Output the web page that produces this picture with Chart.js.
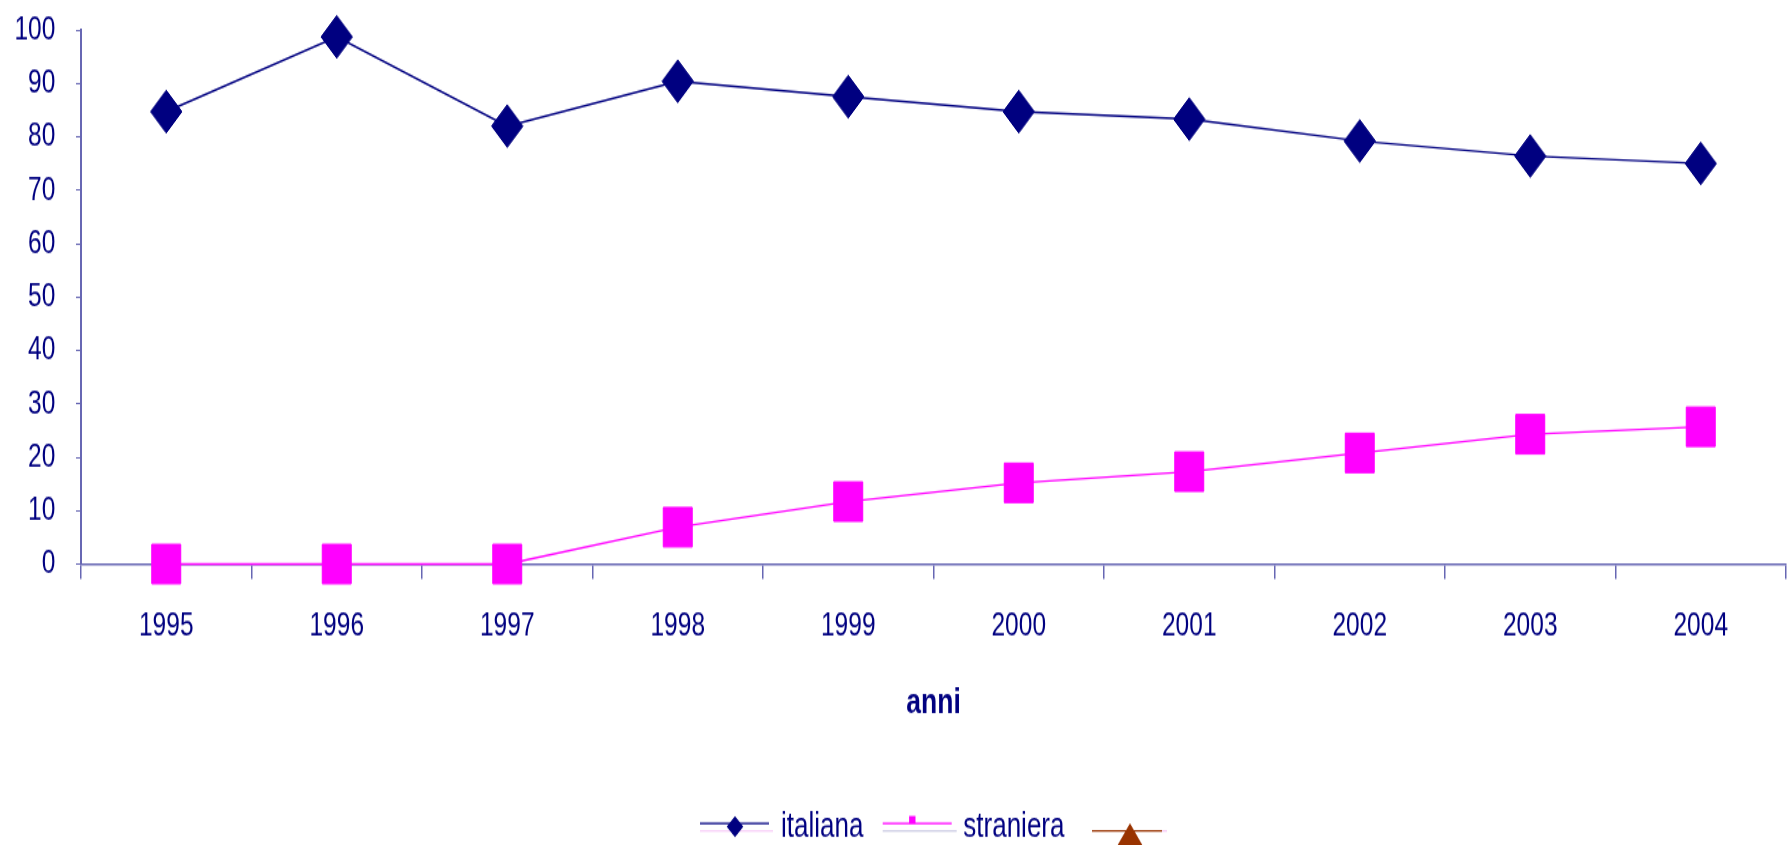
<!DOCTYPE html>
<html lang="it">
<head>
<meta charset="utf-8">
<title>italiana / straniera 1995-2004</title>
<script src="https://cdn.jsdelivr.net/npm/chart.js@4/dist/chart.umd.min.js"></script>
<style>
  html, body { margin: 0; padding: 0; background: #ffffff; overflow: hidden; width: 1787px; height: 845px; }
  /* the chart is drawn on a shorter canvas and stretched vertically */
  #wrap { position: absolute; left: 0; top: 0; width: 1787px; height: 621px; transform-origin: 0 0; transform: scale(1, 1.360709); }
  canvas { display: block; }
</style>
</head>
<body>
<div id="wrap"><canvas id="grafico" width="1787" height="621" style="width:1787px;height:621px"></canvas></div>
<script>
// categories and series
const anni = ['1995', '1996', '1997', '1998', '1999', '2000', '2001', '2002', '2003', '2004'];
const italiana = [84.7, 98.7, 82.0, 90.4, 87.5, 84.7, 83.3, 79.2, 76.4, 75.0];
const straniera = [0, 0, 0, 6.9, 11.7, 15.2, 17.3, 20.8, 24.3, 25.7];
const terzaSerie = [];
const etichetteSerie = ['italiana', 'straniera', ''];

// value axis
const asseYMin = 0;
const asseYMax = 100;
const asseYPasso = 10;
const titoloAsseX = 'anni';

const NAVY = '#000080';
const MAGENTA = '#ff00ff';
const MARRONE = '#993300';
const ASSE = '#6767b3';
const STRETCH = 845 / 621;

// legend entries, in page pixels (y is divided by STRETCH when drawn)
const legendaLayout = [
  { linea: [700, 769, 823.3], sotto: ['#f6c2f6', 700, 773, 831], marker: [735, 826.7, 8.3, 10.5], testoX: 781 },
  { linea: [882.7, 951.7, 823.3], sotto: ['#bfbfdc', 882.7, 956.7, 831], marker: [912.3, 819.7, 3.2, 3.8], testoX: 963.3 },
  { linea: [1092, 1162, 831], sotto: ['#f6c2f6', 1162, 1167, 831], marker: [1130, 844, 23.5, 20.7], testoX: 1175 }
];
const legendaBaseline = 837.3;

const legendaInBasso = {
  id: 'legendaInBasso',
  afterDraw(chart) {
    const ctx = chart.ctx;
    const sy = v => v / STRETCH;
    ctx.save();
    chart.data.datasets.forEach((ds, i) => {
      const L = legendaLayout[i];
      if (!L) return;
      if (L.sotto) {
        ctx.strokeStyle = L.sotto[0];
        ctx.lineWidth = 1.1;
        ctx.beginPath();
        ctx.moveTo(L.sotto[1], sy(L.sotto[3]));
        ctx.lineTo(L.sotto[2], sy(L.sotto[3]));
        ctx.stroke();
      }
      ctx.strokeStyle = ds.borderColor;
      ctx.lineWidth = 1.2;
      ctx.beginPath();
      ctx.moveTo(L.linea[0], sy(L.linea[2]));
      ctx.lineTo(L.linea[1], sy(L.linea[2]));
      ctx.stroke();

      const [cx, cy, hw, hh] = L.marker;
      ctx.fillStyle = ds.pointBackgroundColor;
      ctx.beginPath();
      if (ds.pointStyle === 'rectRot') {
        ctx.moveTo(cx, sy(cy - hh));
        ctx.lineTo(cx + hw, sy(cy));
        ctx.lineTo(cx, sy(cy + hh));
        ctx.lineTo(cx - hw, sy(cy));
      } else if (ds.pointStyle === 'rect') {
        ctx.rect(cx - hw, sy(cy - hh), hw * 2, sy(hh * 2));
      } else {
        ctx.moveTo(cx, sy(cy - hh));
        ctx.lineTo(cx + hw, sy(cy + hh));
        ctx.lineTo(cx - hw, sy(cy + hh));
      }
      ctx.closePath();
      ctx.fill();

      if (ds.label) {
        ctx.fillStyle = NAVY;
        ctx.font = '26px "Liberation Sans", Arial, sans-serif';
        ctx.textAlign = 'left';
        ctx.textBaseline = 'alphabetic';
        ctx.fillText(ds.label, L.testoX, sy(legendaBaseline));
      }
    });
    ctx.restore();
  }
};

const fontTick = { family: '"Liberation Sans", Arial, sans-serif', size: 24.5 };

new Chart(document.getElementById('grafico'), {
  type: 'line',
  data: {
    labels: anni,
    datasets: [
      {
        label: etichetteSerie[0],
        data: italiana,
        borderColor: NAVY,
        borderWidth: 1.45,
        pointStyle: 'rectRot',
        pointRadius: 15.7,
        pointBackgroundColor: NAVY,
        pointBorderColor: NAVY,
        pointBorderWidth: 1,
        tension: 0,
        clip: false
      },
      {
        label: etichetteSerie[1],
        data: straniera,
        borderColor: MAGENTA,
        borderWidth: 1.4,
        pointStyle: 'rect',
        pointRadius: 20.5,
        pointBackgroundColor: MAGENTA,
        pointBorderColor: MAGENTA,
        pointBorderWidth: 1,
        tension: 0,
        clip: false
      },
      {
        label: etichetteSerie[2],
        data: terzaSerie,
        borderColor: MARRONE,
        borderWidth: 1.3,
        pointStyle: 'triangle',
        pointRadius: 14,
        pointBackgroundColor: MARRONE,
        pointBorderColor: MARRONE,
        clip: false
      }
    ]
  },
  options: {
    responsive: false,
    maintainAspectRatio: false,
    devicePixelRatio: 1,
    animation: false,
    events: [],
    layout: { autoPadding: false, padding: { top: 22, right: 1, bottom: 88.9, left: 0 } },
    plugins: {
      legend: { display: false },
      tooltip: { enabled: false },
      title: { display: false }
    },
    scales: {
      x: {
        type: 'category',
        offset: true,
        border: { display: true, color: ASSE, width: 1.5 },
        grid: { display: true, offset: true, drawOnChartArea: false, drawTicks: true, tickLength: 11, color: ASSE, lineWidth: 1.5 },
        ticks: { color: NAVY, font: fontTick, padding: 20, autoSkip: false, maxRotation: 0, minRotation: 0 },
        title: {
          display: true,
          text: titoloAsseX,
          color: NAVY,
          font: { family: '"Liberation Sans", Arial, sans-serif', size: 26.5, weight: 'bold' },
          padding: { top: 20.6, bottom: 0 }
        },
        afterFit(scale) {
          scale.paddingLeft = 0;
          scale.paddingRight = 0;
          scale.height = 117.6;
        }
      },
      y: {
        min: asseYMin,
        max: asseYMax,
        border: { display: true, color: ASSE, width: 2 },
        grid: { display: true, drawOnChartArea: false, drawTicks: true, tickLength: 5, color: ASSE, lineWidth: 1 },
        ticks: { stepSize: asseYPasso, color: NAVY, font: fontTick, padding: 20.7 },
        afterFit(scale) {
          scale.width = 81;
          scale.paddingTop = 0;
          scale.paddingBottom = 0;
        }
      }
    }
  },
  plugins: [legendaInBasso]
});
</script>
</body>
</html>
